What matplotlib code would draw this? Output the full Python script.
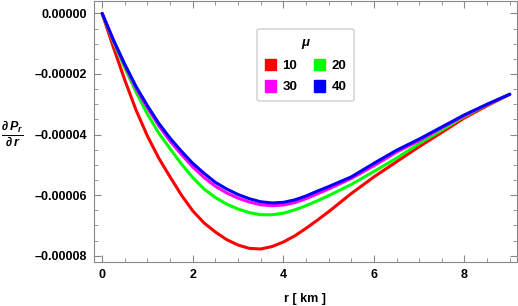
import numpy as np
import matplotlib.pyplot as plt
from matplotlib.patches import Patch
from matplotlib.ticker import MultipleLocator, FuncFormatter

plt.rcParams['font.family'] = ['Liberation Sans', 'DejaVu Sans']
plt.rcParams['font.weight'] = 'bold'
plt.rcParams['mathtext.fontset'] = 'custom'
plt.rcParams['mathtext.it'] = 'Liberation Sans:italic:bold'
plt.rcParams['mathtext.rm'] = 'Liberation Sans:bold'

# values (in units of 1e-5)
r = [0, 0.25, 0.5, 0.75, 1.0, 1.25, 1.5, 1.75, 2.0, 2.25, 2.5, 2.75, 3.0, 3.25, 3.5, 3.75,
     4.0, 4.25, 4.5, 4.75, 5.0, 5.5, 6.0, 6.5, 7.0, 7.5, 8.0, 8.5, 9.0]
mu_10 = [0, -1.13, -2.2, -3.2, -4.05, -4.78, -5.4, -6.0, -6.52, -6.92, -7.22, -7.47, -7.65,
         -7.76, -7.78, -7.7, -7.55, -7.35, -7.1, -6.83, -6.55, -5.95, -5.4, -4.9, -4.4,
         -3.93, -3.45, -3.05, -2.67]
mu_20 = [0, -0.95, -1.8, -2.6, -3.33, -3.95, -4.47, -4.97, -5.42, -5.8, -6.08, -6.3, -6.46,
         -6.58, -6.65, -6.65, -6.6, -6.49, -6.35, -6.19, -6.02, -5.65, -5.22, -4.78, -4.3,
         -3.85, -3.4, -3.02, -2.67]
mu_30 = [0, -0.9, -1.72, -2.48, -3.12, -3.71, -4.22, -4.66, -5.07, -5.42, -5.71, -5.93, -6.1,
         -6.23, -6.32, -6.35, -6.33, -6.25, -6.12, -5.96, -5.8, -5.45, -5.03, -4.58, -4.2,
         -3.78, -3.37, -3.01, -2.67]
mu_40 = [0, -0.88, -1.68, -2.42, -3.05, -3.63, -4.12, -4.55, -4.95, -5.28, -5.58, -5.8, -5.98,
         -6.12, -6.22, -6.26, -6.24, -6.16, -6.03, -5.87, -5.72, -5.4, -4.95, -4.52, -4.15,
         -3.75, -3.35, -3.0, -2.67]

labels = ["10", "20", "30", "40"]
colors = ["#ff0000", "#00ff00", "#ff00ff", "#0000ff"]
series = [mu_10, mu_20, mu_30, mu_40]

fig = plt.figure(figsize=(5.18, 3.06), dpi=100)
ax = fig.add_axes([94/518, 1 - 262/306, 423/518, 261/306])

r = np.array(r)
for y, c in zip(series, colors):
    ax.plot(r, np.array(y) * 1e-5, color=c, lw=2.2, solid_capstyle='round',
            solid_joinstyle='round')

ax.set_xlim(-0.18, 9.16)
ax.set_ylim(-8.21e-5, 0.41e-5)

ax.xaxis.set_major_locator(MultipleLocator(2))
ax.xaxis.set_minor_locator(MultipleLocator(0.5))
ax.yaxis.set_major_locator(MultipleLocator(2e-5))
ax.yaxis.set_minor_locator(MultipleLocator(0.5e-5))
ax.yaxis.set_major_formatter(FuncFormatter(lambda v, p: f"{v:.5f}".replace("-", "\u2013") if abs(v) > 1e-12 else "0.00000"))
ax.xaxis.set_major_formatter(FuncFormatter(lambda v, p: f"{v:.0f}"))

gray = "#888888"
for s in ax.spines.values():
    s.set_color(gray)
    s.set_linewidth(0.8)
ax.tick_params(which='both', direction='in', top=True, right=True, color=gray,
               labelsize=9, pad=5)
ax.tick_params(which='major', length=5, width=0.8)
ax.tick_params(which='minor', length=3, width=0.6)
for t in ax.get_xticklabels() + ax.get_yticklabels():
    t.set_fontweight('bold')

ax.set_xlabel("r [ km ]", fontsize=9, fontweight='bold', labelpad=9)
fig.text(12/518, 1 - 135/306, r"$\frac{\partial\, P_r}{\partial\, r}$", fontsize=13,
         ha='center', va='center')

# rows: 10 20 / 30 40 (matplotlib fills columns first)
order = [0, 2, 1, 3]
handles = [Patch(facecolor=colors[i], edgecolor=colors[i]) for i in order]
leg = ax.legend(handles, [labels[i] for i in order], ncol=2, title=r"$\mu$", loc='center',
                bbox_to_anchor=(0.501, 0.755), frameon=True, fancybox=True,
                handlelength=0.8, handleheight=1.0, handletextpad=0.5,
                columnspacing=1.3, labelspacing=0.6, borderpad=0.6,
                prop={'weight': 'bold', 'size': 9.5}, title_fontsize=9.5)
leg.get_frame().set_edgecolor("#cccccc")
leg.get_frame().set_linewidth(1.2)

fig.savefig("out.png", dpi=100)
